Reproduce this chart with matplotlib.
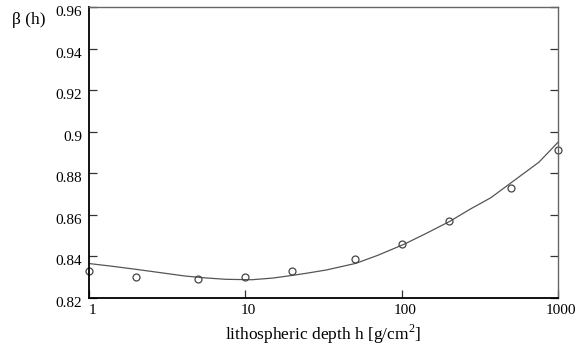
"""Beta(h) versus lithospheric depth, log x axis, fit curve plus sample points."""

import matplotlib
matplotlib.use("Agg")
import matplotlib.pyplot as plt
import matplotlib.transforms as mtransforms

# sampled points (open circles)
depth_points = [1, 2, 5, 10, 20, 50, 100, 200, 500, 1000]
beta_points = [0.8329, 0.8302, 0.8291, 0.8302, 0.8329, 0.8390, 0.8458, 0.8569, 0.8729, 0.8915]

# fitted curve
depth_curve = [1, 1.4, 2, 3, 4.1, 5.5, 7.5, 11, 15, 20, 25, 33, 51, 70, 103,
               140, 203, 270, 372, 755, 1000]
beta_curve = [0.8366, 0.8353, 0.8338, 0.8320, 0.8306, 0.8297, 0.8290, 0.8288,
              0.8296, 0.8309, 0.8320, 0.8335, 0.8367, 0.8405, 0.8458,
              0.8507, 0.8569, 0.8625, 0.8683, 0.8854, 0.8950]

x_ticks = [1, 10, 100, 1000]
x_labels = ["1", "10", "100", "1000"]
y_ticks = [0.82, 0.84, 0.86, 0.88, 0.9, 0.92, 0.94, 0.96]
y_labels = ["0.82", "0.84", "0.86", "0.88", "0.9", "0.92", "0.94", "0.96"]

plt.rcParams["font.family"] = ["Liberation Serif", "DejaVu Serif"]
plt.rcParams["mathtext.fontset"] = "custom"
plt.rcParams["mathtext.rm"] = "Liberation Serif"

figure = plt.figure(figsize=(5.88, 3.56), dpi=100)
axis = figure.add_axes([89 / 588, 1 - 298 / 356, (558 - 89) / 588, (298 - 7.3) / 356])

axis.plot(depth_curve, beta_curve, color="#555555", linewidth=0.9)
axis.plot(depth_points, beta_points, linestyle="none", marker="o", markersize=5,
          markerfacecolor="none", markeredgecolor="#444444", markeredgewidth=0.9,
          clip_on=False)

axis.set_xscale("log")
axis.set_xlim(1, 1000)
axis.set_ylim(0.82, 0.96)
axis.set_xticks(x_ticks, x_labels)
axis.set_yticks(y_ticks, y_labels)
axis.xaxis.set_minor_locator(matplotlib.ticker.NullLocator())
axis.tick_params(axis="x", direction="in", length=6, width=0.9, labelsize=11,
                 pad=4, color="#333333")
axis.tick_params(axis="y", direction="in", length=6, width=0.9, labelsize=11,
                 pad=5, right=True, color="#333333")

# Mathcad-style: labels sit a little right of / below their ticks
x_shift = mtransforms.ScaledTranslation(3 / 100, 0, figure.dpi_scale_trans)
for label in axis.get_xticklabels():
    label.set_transform(label.get_transform() + x_shift)
y_shift = mtransforms.ScaledTranslation(0, -4 / 100, figure.dpi_scale_trans)
for label in axis.get_yticklabels():
    label.set_transform(label.get_transform() + y_shift)

for side in ("left", "bottom"):
    axis.spines[side].set_color("black")
    axis.spines[side].set_linewidth(1.3)
for side in ("top", "right"):
    axis.spines[side].set_color("#666666")
    axis.spines[side].set_linewidth(1.0)

figure.text(12 / 588, 1 - 20 / 356, "β (h)", fontsize=12.5, ha="left", va="center")
figure.text(323 / 588, 1 - 334 / 356, "lithospheric depth h [g/cm$^2$]",
            fontsize=12.5, ha="center", va="center")

figure.savefig("out.png", dpi=100)
